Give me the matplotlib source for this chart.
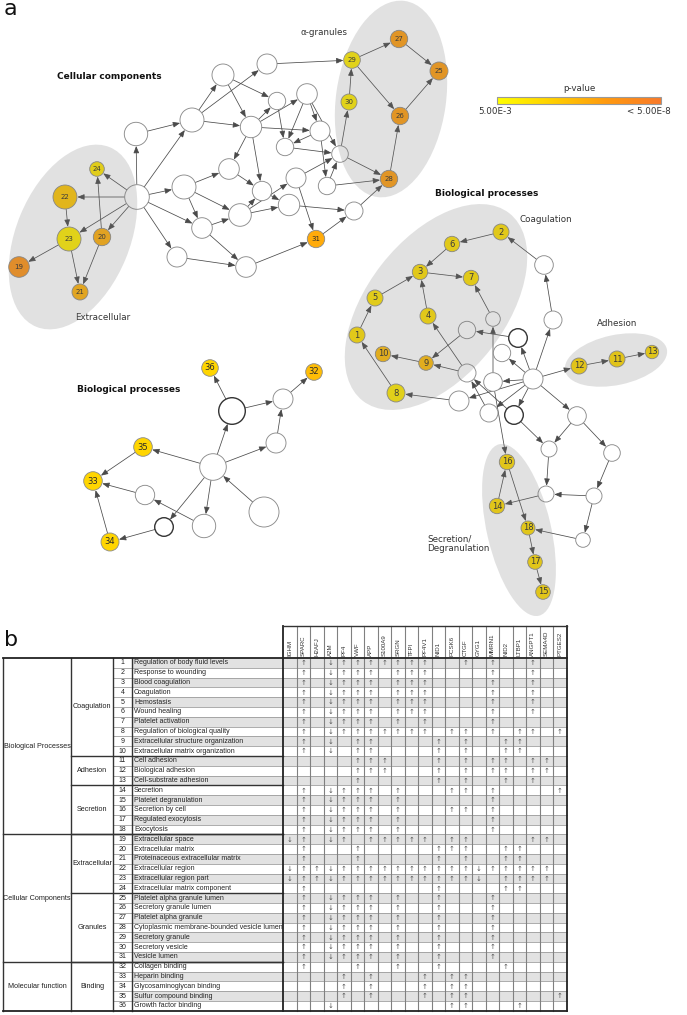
import numpy as np
import matplotlib
matplotlib.use("Agg")
import matplotlib.pyplot as plt
from matplotlib.patches import Circle, Ellipse, FancyArrowPatch, Rectangle
from matplotlib.colors import LinearSegmentedColormap

# ---------------- table data (panel b) ----------------
GENES = ["IGHM", "SPARC", "H2AFJ", "A2M", "PF4", "VWF", "APP", "S100A9", "SRGN", "TFPI",
         "PF4V1", "NID1", "PCSK6", "CTGF", "GYG1", "MMRN1", "NID2", "LTBP1", "ANGPT1",
         "SEMA4D", "PTGES2"]

TERMS = ["Regulation of body fluid levels", "Response to wounding", "Blood coagulation",
         "Coagulation", "Hemostasis", "Wound healing", "Platelet activation",
         "Regulation of biological quality", "Extracellular structure organization",
         "Extracellular matrix organization", "Cell adhesion", "Biological adhesion",
         "Cell-substrate adhesion", "Secretion", "Platelet degranulation", "Secretion by cell",
         "Regulated exocytosis", "Exocytosis", "Extracellular space", "Extracellular matrix",
         "Proteinaceous extracellular matrix", "Extracellular region", "Extracellular region part",
         "Extracellular matrix component", "Platelet alpha granule lumen", "Secretory granule lumen",
         "Platelet alpha granule", "Cytoplasmic membrane-bounded vesicle lumen", "Secretory granule",
         "Secretory vesicle", "Vesicle lumen", "Collagen binding", "Heparin binding",
         "Glycosaminoglycan binding", "Sulfur compound binding", "Growth factor binding"]

# u = up, d = down, . = not involved (one char per gene)
CHANGES = [
    ".u.duuuuuuu..u.u..u..",
    ".u.duuu.uuu....u..u..",
    ".u.duuu.uuu....u..u..",
    ".u.duuu.uuu....u..u..",
    ".u.duuu.uuu....u..u..",
    ".u.duuu.uuu....u..u..",
    ".u.duuu.u.u....u.....",
    ".u.duuuuuuu.uu.u.uu.u",
    ".u.d.uu....u.u..uu...",
    ".u.d.uu....u.u..uu...",
    ".....uuu...u.u.uu.uu.",
    ".....uuu...u.u.uu.uu.",
    ".....u.....u.u..u.u..",
    ".u.duuu.u...uu.u....u",
    ".u.duuu.u......u.....",
    ".u.duuu.u...uu.u.....",
    ".u.duuu.u......u.....",
    ".u.duuu.u......u.....",
    "du.du.uuuuu.uu....uu.",
    ".u...u.....uuu..uu...",
    ".u...u.....u.u..uu...",
    "duuduuuuuuuuuuduuuuu.",
    "duuduuuuuuuuuud.uuuu.",
    ".u.........u....uu...",
    ".u.duuu.u..u...u.....",
    ".u.duuu.u..u...u.....",
    ".u.duuu.u..u...u.....",
    ".u.duuu.u..u...u.....",
    ".u.duuu.u..u...u.....",
    ".u.duuu.u..u...u.....",
    ".u.duuu.u..u...u.....",
    ".u...u..u..u....u....",
    "....u.u...u.uu.......",
    "....u.u...u.uu.......",
    "....u.u...u.uu......u",
    "...d........uu...u...",
]

CLASSES = ["Biological Processes", "Cellular Components", "Molecular function"]
CLASS_ROWS = [18, 13, 5]
SUBGROUPS = ["Coagulation", "Adhesion", "Secretion", "Extracellular", "Granules", "Binding"]
SUBGROUP_ROWS = [10, 3, 5, 6, 7, 5]

# ---------------- network data (panel a) ----------------
# -log10(p) of the enriched terms; nodes not listed are unlabelled (white)
NODE_NLOGP = {
    "n1": 3.45, "n2": 3.45, "n3": 3.45, "n4": 3.45, "n5": 3.3, "n6": 3.4, "n7": 3.4,
    "n8": 3.1, "n9": 4.6, "n10": 4.6, "n11": 3.65, "n12": 3.65, "n13": 3.6,
    "n14": 3.6, "n15": 3.6, "n16": 3.6, "n17": 3.6, "n18": 3.5,
    "n19": 6.0, "n20": 5.0, "n21": 4.9, "n22": 4.25, "n23": 3.0, "n24": 3.2,
    "n25": 5.5, "n26": 5.5, "n27": 5.5, "n28": 5.5, "n29": 3.0, "n30": 3.0, "n31": 5.1,
    "n32": 4.55, "n33": 3.8, "n34": 3.8, "n35": 3.8, "n36": 3.8,
}

EDGES_CC = [
    ("H1", "n24"), ("H1", "n22"), ("H1", "n23"), ("H1", "n20"), ("n22", "n23"), ("n20", "n24"),
    ("n23", "n19"), ("n23", "n21"), ("n20", "n21"),
    ("H1", "W1"), ("H1", "W2"), ("H1", "W11"), ("H1", "W18"), ("H1", "W19"),
    ("W1", "W2"), ("W2", "W3"), ("W2", "W4"), ("W2", "W6"), ("W3", "W6"), ("W3", "W5"),
    ("W4", "n29"), ("W6", "W5"), ("W6", "W7"), ("W6", "W8"), ("W6", "W13"), ("W6", "W12"),
    ("W5", "W9"), ("W7", "W9"), ("W7", "W8"), ("W7", "W10"), ("W8", "W9"), ("W8", "W15"),
    ("W9", "W10"), ("W11", "W12"), ("W11", "W18"), ("W11", "W16"), ("W12", "W13"),
    ("W16", "W13"), ("W16", "W14"), ("W16", "W17"), ("W13", "W17"), ("W18", "W16"),
    ("W18", "W20"), ("W19", "W20"), ("W20", "n31"), ("W14", "n31"), ("n31", "W21"),
    ("W17", "W21"), ("W15", "W10"), ("W14", "W10"),
    ("W10", "n30"), ("W10", "n28"), ("W21", "n28"), ("W15", "n28"),
    ("n30", "n29"), ("n29", "n27"), ("n27", "n25"), ("n29", "n26"), ("n26", "n25"), ("n28", "n26"),
]

EDGES_BP = [
    ("Rb", "Ra"), ("Ra", "n2"), ("n2", "n6"), ("n6", "n3"), ("n3", "n7"), ("n5", "n3"), ("n4", "n3"),
    ("n1", "n5"), ("n8", "n1"), ("Rc", "n7"), ("Rd", "n9"), ("Rg", "n9"), ("n9", "n10"), ("Rg", "n4"),
    ("Rj", "n8"), ("Re", "Rd"), ("Rh", "Rc"), ("Ri", "Re"), ("Ri", "Rb"), ("Ri", "Rf"), ("Ri", "Rh"),
    ("Ri", "Rj"), ("Rk", "Rg"), ("Rl", "Rg"), ("Ri", "Rl"), ("Ri", "Rk"), ("Ri", "n12"),
    ("n12", "n11"), ("n11", "n13"), ("Ri", "Rm"), ("Rh", "n16"), ("Rl", "Rn"), ("Rm", "Rn"),
    ("Rm", "Ro"), ("Rn", "Rp"), ("Ro", "Rq"), ("Rq", "Rp"), ("Rq", "Rr"), ("Rp", "n14"),
    ("n14", "n16"), ("n16", "n18"), ("Rr", "n18"), ("n18", "n17"), ("n17", "n15"),
]

EDGES_MF = [
    ("Sa", "n36"), ("Sa", "Sb"), ("Sb", "n32"), ("Sc", "Sb"), ("Sd", "Sa"), ("Sd", "Sc"),
    ("Sd", "n35"), ("n35", "n33"), ("Se", "n33"), ("Sd", "Sh"), ("Sd", "Sg"), ("Sf", "Sd"),
    ("Sh", "Se"), ("Sg", "n34"), ("n34", "n33"),
]

# ---------------- layout (pixels, y down) ----------------
NODE_XY = {
    "H1": (137, 197), "n24": (97, 169), "n22": (65, 197), "n23": (69, 239), "n20": (102, 237),
    "n19": (19, 267), "n21": (80, 292), "W1": (136, 134), "W2": (192, 120), "W3": (223, 75),
    "W4": (267, 64), "W5": (277, 101), "W6": (251, 127), "W7": (307, 94), "W8": (320, 131),
    "W9": (285, 147), "W10": (340, 154), "W11": (184, 187), "W12": (229, 169), "W13": (262, 191),
    "W14": (296, 178), "W15": (327, 186), "W16": (240, 215), "W17": (289, 205), "W18": (202, 228),
    "W19": (177, 257), "W20": (246, 267), "W21": (354, 211), "n31": (316, 239),
    "n29": (352, 60), "n27": (399, 39), "n25": (439, 71), "n30": (349, 102), "n26": (400, 116),
    "n28": (389, 179),
    "n2": (501, 232), "n6": (452, 244), "n3": (420, 272), "n7": (471, 278), "n5": (375, 298),
    "n4": (428, 316), "n1": (357, 335), "n10": (383, 354), "n9": (426, 363), "n8": (396, 393),
    "Ra": (544, 265), "Rb": (553, 320), "Rc": (493, 319), "Rd": (467, 330), "Re": (518, 338),
    "Rf": (502, 353), "Rg": (467, 373), "Rh": (493, 382), "Ri": (533, 379), "Rj": (459, 401),
    "Rk": (489, 413), "Rl": (514, 415), "n12": (579, 366), "n11": (617, 359), "n13": (652, 352),
    "Rm": (577, 416), "Rn": (549, 449), "Ro": (612, 453), "Rp": (546, 494), "Rq": (594, 496),
    "Rr": (583, 540), "n16": (507, 462), "n14": (497, 506), "n18": (528, 528), "n17": (535, 562),
    "n15": (543, 592),
    "n36": (210, 368), "n32": (314, 372), "Sa": (232, 411), "Sb": (283, 399), "Sc": (276, 443),
    "Sd": (213, 467), "n35": (143, 447), "n33": (93, 481), "Se": (145, 495), "Sf": (264, 512),
    "Sg": (164, 527), "Sh": (204, 526), "n34": (110, 542),
}
NODE_R = {
    "H1": 12.3, "n24": 7.3, "n22": 12, "n23": 12, "n20": 8.7, "n19": 10.3, "n21": 8,
    "W1": 11.7, "W2": 12, "W3": 11, "W4": 10, "W5": 8.7, "W6": 10.7, "W7": 10.3, "W8": 10,
    "W9": 8.7, "W10": 8.3, "W11": 12, "W12": 10.3, "W13": 9.7, "W14": 10, "W15": 8.7,
    "W16": 11.3, "W17": 10.7, "W18": 10.3, "W19": 10, "W20": 10.3, "W21": 9, "n31": 8.7,
    "n29": 8.3, "n27": 8.7, "n25": 9, "n30": 8, "n26": 8.7, "n28": 8.7,
    "n2": 8, "n6": 7.7, "n3": 7.7, "n7": 7.7, "n5": 8, "n4": 8, "n1": 8, "n10": 7.7,
    "n9": 7.3, "n8": 9, "Ra": 9.3, "Rb": 9, "Rc": 7.3, "Rd": 8.7, "Re": 9.3, "Rf": 8.7,
    "Rg": 9, "Rh": 9.3, "Ri": 10, "Rj": 10, "Rk": 9, "Rl": 9.3, "n12": 8, "n11": 8,
    "n13": 6.7, "Rm": 9.3, "Rn": 8, "Ro": 8.3, "Rp": 8, "Rq": 8, "Rr": 7.3, "n16": 7.7,
    "n14": 7.7, "n18": 7, "n17": 7.3, "n15": 7.3,
    "n36": 8.3, "n32": 8.3, "Sa": 13.3, "Sb": 10, "Sc": 10, "Sd": 13.3, "n35": 9.3,
    "n33": 9.3, "Se": 9.7, "Sf": 15, "Sg": 9.3, "Sh": 11.7, "n34": 9,
}
BOLD_NODES = {"Re", "Rl", "Sa", "Sg"}

W, H = 687, 1015
fig = plt.figure(figsize=(W / 100, H / 100), dpi=100)
ax = fig.add_axes([0, 0, 1, 1])

cmap = LinearSegmentedColormap.from_list("pv", ["#ffff00", "#ffd000", "#ff9a10", "#f97a2a"])
P_LO, P_HI = -np.log10(5e-3), -np.log10(5e-8)

edge_kw = dict(arrowstyle="-|>,head_length=0.6,head_width=0.24", mutation_scale=7,
               lw=0.55, color="#4a4a4a", shrinkA=0, shrinkB=0, zorder=1)

for a, b in EDGES_CC + EDGES_BP + EDGES_MF:
    p = np.array(NODE_XY[a], float)
    q = np.array(NODE_XY[b], float)
    u = (q - p) / np.hypot(*(q - p))
    s = p + u * NODE_R[a]
    e = q - u * (NODE_R[b] + 0.3)
    ax.add_patch(FancyArrowPatch(tuple(s), tuple(e), **edge_kw))

for k, (x, y) in NODE_XY.items():
    r = NODE_R[k]
    if k in NODE_NLOGP:
        lvl = np.clip((NODE_NLOGP[k] - P_LO) / (P_HI - P_LO), 0, 1)
        ax.add_patch(Circle((x, y), r, fc=cmap(lvl), ec="#8a8a8a", lw=0.6, zorder=2))
        fs = 5.0 if 19 <= int(k[1:]) <= 31 else 6.0
        ax.text(x, y, k[1:], ha="center", va="center", fontsize=fs, color="#2a2a2a", zorder=3)
    else:
        bold = k in BOLD_NODES
        ax.add_patch(Circle((x, y), r, fc="white", ec="#333333" if bold else "#8c8c8c",
                            lw=1.0 if bold else 0.65, zorder=2))

# grey group shapes laid over the nodes
for (cx, cy), a_, b_, ang in [((73, 237), 97, 57, -67.8), ((391, 99), 99, 55, -82),
                              ((436, 307), 119, 69, -52), ((616, 360), 52, 25, -12),
                              ((519, 530), 88, 32, 77)]:
    ax.add_patch(Ellipse((cx, cy), 2 * a_, 2 * b_, angle=ang, fc="#787878", ec="none",
                         alpha=0.22, zorder=4))

bold_kw = dict(fontsize=6.5, fontweight="bold", ha="center", va="center", color="#111111")
ax.text(109, 76, "Cellular components", **bold_kw)
ax.text(487, 193, "Biological processes", **bold_kw)
ax.text(129, 390, "Biological processes", **bold_kw)
lab_kw = dict(fontsize=6.3, ha="center", va="center", color="#333333")
ax.text(324, 32, "α-granules", **lab_kw)
ax.text(103, 318, "Extracellular", **lab_kw)
ax.text(546, 219, "Coagulation", **lab_kw)
ax.text(617, 324, "Adhesion", **lab_kw)
ax.text(427, 544, "Secretion/\nDegranulation", fontsize=6.3, ha="left", va="center",
        color="#333333", linespacing=1.05)

# colour bar
grad = np.linspace(0, 1, 256)[None, :]
ax.imshow(grad, cmap=cmap, extent=(497, 661, 104, 97), aspect="auto", zorder=2)
ax.add_patch(Rectangle((497, 97), 164, 7, fc="none", ec="#9a9a9a", lw=0.8, zorder=3))
ax.text(579, 88, "p-value", ha="center", va="center", fontsize=6.3, color="#333333")
ax.text(478, 111, "5.00E-3", ha="left", va="center", fontsize=6.3, color="#333333")
ax.text(627, 111, "< 5.00E-8", ha="left", va="center", fontsize=6.3, color="#333333")

ax.text(4, 15, "a", fontsize=16, ha="left", va="baseline", color="#111111")
ax.text(4, 646, "b", fontsize=16, ha="left", va="baseline", color="#111111")

# ---------------- table ----------------
narrow = ["Liberation Sans Narrow", "Liberation Sans", "DejaVu Sans"]
X0, X1, X2, X3, X4 = 3, 71, 113, 132, 283
CW = 13.5
YH, Y0, RH = 626, 658, 9.8
n_rows = len(TERMS)
XR = X4 + CW * len(GENES)
YB = Y0 + RH * n_rows

for i in range(n_rows):
    y = Y0 + i * RH
    if i % 2 == 0:
        ax.add_patch(Rectangle((X3, y), XR - X3, RH, fc="#e2e2e2", ec="none", zorder=0))
    ax.text((X2 + X3) / 2, y + RH / 2, str(i + 1), ha="center", va="center", fontsize=5,
            family=narrow, color="#222222")
    ax.text(X3 + 2, y + RH / 2, TERMS[i], ha="left", va="center", fontsize=5,
            family=narrow, color="#222222")
    for j, c in enumerate(CHANGES[i]):
        if c == ".":
            continue
        ax.text(X4 + CW * (j + 0.5), y + RH / 2 + 0.3, "↑" if c == "u" else "↓",
                ha="center", va="center", fontsize=5, color="#555555")

for j, g in enumerate(GENES):
    ax.text(X4 + CW * (j + 0.5), Y0 - 2.5, g, rotation=90, ha="center", va="bottom",
            fontsize=4.4, family=narrow, color="#333333")

line_kw = dict(color="#8c8c8c", lw=0.5, zorder=1)
dark_kw = dict(color="#333333", lw=1.0, zorder=1.5)
for i in range(1, n_rows):
    y = Y0 + i * RH
    ax.plot([X2, XR], [y, y], **line_kw)
for j in range(1, len(GENES)):
    x = X4 + CW * j
    ax.plot([x, x], [YH, YB], color="#808080", lw=0.8, zorder=1)

row = 0
for name, n in zip(SUBGROUPS, SUBGROUP_ROWS):
    ax.text((X1 + X2) / 2, Y0 + (row + n / 2) * RH, name, ha="center", va="center",
            fontsize=5.2, family=narrow, color="#222222")
    row += n
    if row < n_rows:
        ax.plot([X1, X4], [Y0 + row * RH] * 2, **dark_kw)
row = 0
for name, n in zip(CLASSES, CLASS_ROWS):
    ax.text((X0 + X1) / 2, Y0 + (row + n / 2) * RH, name, ha="center", va="center",
            fontsize=5.2, family=narrow, color="#222222")
    row += n
    if row < n_rows:
        ax.plot([X0, X4], [Y0 + row * RH] * 2, **dark_kw)

for x in (X0, X1, X2, X3):
    ax.plot([x, x], [Y0, YB], **dark_kw)
ax.plot([X4, X4], [YH, YB], color="#222222", lw=1.3, zorder=1.5)
ax.plot([XR, XR], [YH, YB], color="#222222", lw=1.3, zorder=1.5)
ax.plot([X4, XR], [YH, YH], **dark_kw)
ax.plot([X0, XR], [Y0, Y0], color="#222222", lw=1.3, zorder=1.5)
ax.plot([X0, XR], [YB, YB], color="#222222", lw=1.3, zorder=1.5)

ax.set_xlim(0, W)
ax.set_ylim(H, 0)
ax.axis("off")
fig.savefig("out.png", dpi=100)
